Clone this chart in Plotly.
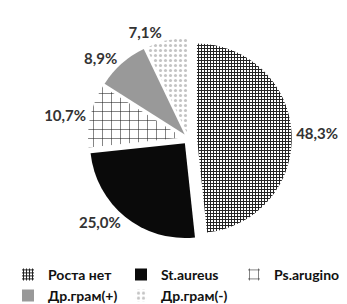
import plotly.graph_objects as go

labels = ["Роста нет", "St.aureus", "Ps.aruginosa", "Др.грам(+)", "Др.грам(-)"]
values = [48.3, 25.0, 10.7, 8.9, 7.1]
text_labels = ["48,3%", "25,0%", "10,7%", "8,9%", "7,1%"]

colors = ["#ffffff", "#0a0a0a", "#ffffff", "#999999", "#e2e2e2"]
pattern_shapes = ["+", "", "+", "", "."]
pattern_fg = ["#222222", "#000000", "#222222", "#000000", "#c4c4c4"]
pattern_size = [3, 8, 9, 8, 5]
pattern_solidity = [0.55, 0.3, 0.12, 0.3, 0.3]

fig = go.Figure(go.Pie(
    labels=labels,
    values=values,
    text=text_labels,
    texttemplate="%{text}",
    textposition="outside",
    sort=False,
    direction="clockwise",
    rotation=0,
    pull=[0.09, 0.06, 0.06, 0.06, 0.06],
    marker=dict(
        colors=colors,
        line=dict(color="#ffffff", width=0),
        pattern=dict(shape=pattern_shapes, fgcolor=pattern_fg,
                     size=pattern_size, solidity=pattern_solidity),
    ),
    outsidetextfont=dict(family="Lato", size=15, color="#333333", weight="bold"),
    domain=dict(x=[0.12, 0.92], y=[0.23, 0.91]),
    hoverinfo="label+percent",
))

fig.update_layout(
    width=347, height=304,
    margin=dict(l=0, r=0, t=0, b=0, autoexpand=False),
    paper_bgcolor="#ffffff",
    plot_bgcolor="#ffffff",
    showlegend=True,
    legend=dict(
        orientation="h",
        x=0.0, xanchor="left",
        y=0.175, yanchor="top",
        font=dict(family="Liberation Sans Narrow, Lato", size=14, color="#111111", weight="bold"),
        entrywidth=68,
        itemwidth=30,
        tracegroupgap=0,
    ),
)

fig.write_html("out.html")
